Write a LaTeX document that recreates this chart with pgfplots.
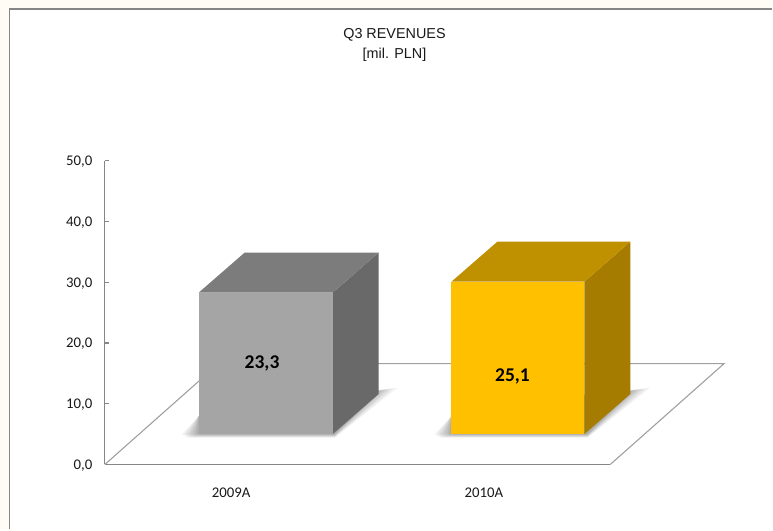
\documentclass[border=0pt]{standalone}
\usepackage{pgfplots}
\usepackage{fontspec}
\pgfplotsset{compat=1.18}
\setmainfont{Carlito}
\newfontfamily\arialf{Liberation Sans}
\definecolor{cream}{HTML}{FFFBF5}
\definecolor{axisgray}{HTML}{868686}
\definecolor{floorgray}{HTML}{A0A0A0}
\definecolor{gfront}{HTML}{A5A5A5}
\definecolor{gtop}{HTML}{7C7C7C}
\definecolor{gside}{HTML}{696969}
\definecolor{yfront}{HTML}{FFC000}
\definecolor{ytop}{HTML}{BF9000}
\definecolor{yside}{HTML}{A67C00}
% soft floor shadow: x0, left, bottom, right, top
\newcommand{\shlayer}[5]{\addplot[draw=none,fill=black,fill opacity=0.05,forget plot] coordinates {({#1+#2},5) ({#1+#2+0.024},#3) ({#1+0.538},#3) ({#1+#4},#5) ({#1+0.53},11.5) ({#1},8)};}
\newcommand{\barshadow}[1]{%
  \shlayer{#1}{-0.066}{4.40}{0.785}{12.6}
  \shlayer{#1}{-0.056}{4.50}{0.770}{12.5}
  \shlayer{#1}{-0.046}{4.60}{0.755}{12.4}
  \shlayer{#1}{-0.036}{4.70}{0.742}{12.3}
  \shlayer{#1}{-0.026}{4.80}{0.730}{12.2}
  \shlayer{#1}{-0.016}{4.88}{0.720}{12.1}
  \shlayer{#1}{-0.008}{4.95}{0.710}{12.0}
}
% 3D bar: x left, x right, value, colours
\newcommand{\cube}[6]{%
  \addplot[draw=none,fill=#6,forget plot] coordinates {(#2,5) ({#2+0.182},11.6) ({#2+0.182},{#3+11.6}) (#2,{#3+5})};
  \addplot[draw=none,fill=#5,forget plot] coordinates {(#1,{#3+5}) (#2,{#3+5}) ({#2+0.182},{#3+11.6}) ({#1+0.182},{#3+11.6})};
  \addplot[draw=none,fill=#4,forget plot] coordinates {(#1,5) (#2,5) (#2,{#3+5}) (#1,{#3+5})};
}
\begin{document}
\begin{tikzpicture}
\fill[cream] (0,0) rectangle (773pt,530pt);
\fill[white] (9.5pt,0) rectangle (773pt,521pt);
\draw[axisgray,line width=1.8pt] (9.5pt,0) -- (9.5pt,521pt) -- (773pt,521pt);
\begin{axis}[
  at={(105pt,65pt)},anchor=south west,
  width=506pt,height=304pt,scale only axis,
  clip=false,
  xmin=0,xmax=2,ymin=0,ymax=50,
  axis x line=bottom,axis y line=left,
  axis line style={-,axisgray,line width=1.1pt},
  xtick={0.5,1.5},xticklabels={2009A,2010A},
  ytick={0,10,20,30,40,50},
  tick align=inside,
  major tick length=4.5pt,
  x tick style={draw=none},
  y tick style={axisgray,line width=1.1pt},
  tick label style={font=\fontsize{14.8}{16}\selectfont,text=black!90},
  xticklabel style={yshift=-20pt},
  yticklabel style={xshift=-9pt,yshift=-1pt,/pgf/number format/.cd,fixed,fixed zerofill,precision=1,use comma,assume math mode=true},
  title={Q3 REVENUES\\{[mil. PLN]}},
  title style={at={(axis description cs:0.573,1.362)},anchor=center,align=center,font=\arialf\fontsize{14.4}{19.5}\selectfont,text=black!90},
]
\addplot[floorgray,line width=1.1pt,forget plot] coordinates {(0,0) (0.45,16.6) (2.45,16.6) (2,0)};
\barshadow{0.3715}
\barshadow{1.3715}
\cube{0.3715}{0.9015}{23.3}{gfront}{gtop}{gside}
\cube{1.3715}{1.8975}{25.1}{yfront}{ytop}{yside}
\node[font=\bfseries\fontsize{19.5}{20}\selectfont] at (axis cs:0.622,16.64) {23,3};
\node[font=\bfseries\fontsize{19.5}{20}\selectfont] at (axis cs:1.613,14.44) {25,1};
\end{axis}
\end{tikzpicture}
\end{document}
